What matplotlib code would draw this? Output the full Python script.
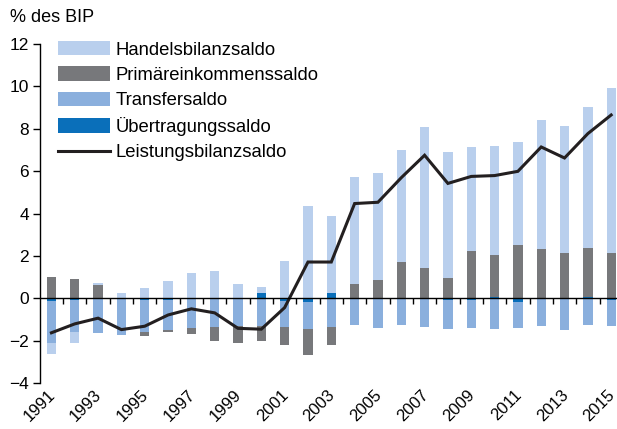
"""
Leistungsbilanz und Komponenten, % des BIP, 1991-2015
"""
import matplotlib
matplotlib.use('Agg')
import matplotlib.pyplot as plt
import matplotlib.transforms as mtransforms
import numpy as np

plt.rcParams['font.family'] = ['Liberation Sans', 'DejaVu Sans']

# Data
years = list(range(1991, 2016))
handels = [-0.54, -0.52, 0.08, 0.24, 0.47, 0.82, 1.18, 1.30, 0.69, 0.27,
           1.75, 4.34, 3.66, 5.03, 5.05, 5.28, 6.62, 5.95, 4.92, 5.13,
           4.86, 6.07, 5.99, 6.65, 7.79]
primaer = [1.00, 0.91, 0.64, 0.00, -0.20, -0.06, -0.28, -0.64, -0.82, -0.71,
           -0.82, -1.20, -0.87, 0.68, 0.86, 1.70, 1.45, 0.94, 2.22, 2.01,
           2.50, 2.34, 2.14, 2.31, 2.12]
transfer = [-1.95, -1.50, -1.65, -1.75, -1.49, -1.42, -1.41, -1.38, -1.30, -1.30,
            -1.27, -1.27, -1.35, -1.27, -1.40, -1.27, -1.34, -1.37, -1.32, -1.43,
            -1.23, -1.30, -1.51, -1.27, -1.21]
uebertragung = [-0.15, -0.10, 0.00, 0.00, -0.10, -0.10, 0.00, 0.00, 0.00, 0.24,
                -0.11, -0.19, 0.24, 0.00, 0.00, 0.00, 0.00, -0.09, -0.08, 0.05,
                -0.17, 0.00, 0.00, 0.05, -0.08]
leistung = [-1.63, -1.21, -0.94, -1.48, -1.32, -0.79, -0.50, -0.69, -1.42, -1.46,
            -0.44, 1.71, 1.71, 4.47, 4.53, 5.69, 6.75, 5.42, 5.75, 5.79,
            5.99, 7.14, 6.62, 7.77, 8.65]
year_labels = [str(y) for y in years[::2]]

# Colours
c_handels = '#b9cfed'
c_primaer = '#77787b'
c_transfer = '#8aafdd'
c_uebertragung = '#0a6fba'
c_line = '#231f20'

fig = plt.figure(figsize=(6.17, 4.29), dpi=100)
ax = fig.add_axes([40 / 617, 1 - 383 / 429, 1 - 40 / 617, (383 - 44) / 429])

x = np.array(years)
width = 0.4

# Stack order from the zero line outwards
series = [
    (uebertragung, c_uebertragung, 'Übertragungssaldo'),
    (transfer, c_transfer, 'Transfersaldo'),
    (primaer, c_primaer, 'Primäreinkommenssaldo'),
    (handels, c_handels, 'Handelsbilanzsaldo'),
]
pos_bottom = np.zeros(len(years))
neg_bottom = np.zeros(len(years))
handles = {}
for values, color, label in series:
    v = np.array(values)
    bottom = np.where(v >= 0, pos_bottom, neg_bottom)
    handles[label] = ax.bar(x, v, width=width, bottom=bottom, color=color,
                            linewidth=0, label=label)
    pos_bottom = pos_bottom + np.clip(v, 0, None)
    neg_bottom = neg_bottom + np.clip(v, None, 0)

line, = ax.plot(x, leistung, color=c_line, linewidth=2.2,
                label='Leistungsbilanzsaldo', solid_joinstyle='miter')

ax.axhline(0, color='black', linewidth=1.0, zorder=3)

ax.set_xlim(1991 - 0.49, 2015 + 0.25)
ax.set_ylim(-4, 12)
ax.set_yticks(range(-4, 13, 2))
ax.tick_params(axis='y', direction='out', length=5, width=1, labelsize=12.5,
               pad=3, colors='black')

for side in ['top', 'right', 'bottom']:
    ax.spines[side].set_visible(False)
ax.spines['left'].set_linewidth(1.0)

# Year labels at the bottom
ax.set_xticks(years[::2])
ax.set_xticklabels(year_labels, rotation=45, ha='right', va='top',
                   rotation_mode='anchor', fontsize=12)
ax.tick_params(axis='x', length=0, pad=3)
shift = mtransforms.ScaledTranslation(-4 / 100, 0, fig.dpi_scale_trans)
for lbl in ax.get_xticklabels():
    lbl.set_transform(lbl.get_transform() + shift)

# Small ticks on the zero line between the bars
sec = ax.secondary_xaxis(0.25)
sec.set_xticks([y + 0.5 for y in years[:-1]])
sec.tick_params(axis='x', direction='out', length=4, width=1, labelbottom=False)
sec.spines['bottom'].set_visible(False)

fig.text(10 / 617, 1 - 18 / 429, '% des BIP', fontsize=13, va='center', ha='left')

leg = ax.legend(
    [handles['Handelsbilanzsaldo'], handles['Primäreinkommenssaldo'],
     handles['Transfersaldo'], handles['Übertragungssaldo'], line],
    ['Handelsbilanzsaldo', 'Primäreinkommenssaldo', 'Transfersaldo',
     'Übertragungssaldo', 'Leistungsbilanzsaldo'],
    loc='upper left', bbox_to_anchor=(58 / 617, 1 - 41 / 429),
    bbox_transform=fig.transFigure, frameon=False, fontsize=13.3,
    handlelength=2.8, handleheight=0.82, labelspacing=0.42,
    handletextpad=0.3, borderpad=0, borderaxespad=0)

fig.savefig('out.png', dpi=100)
